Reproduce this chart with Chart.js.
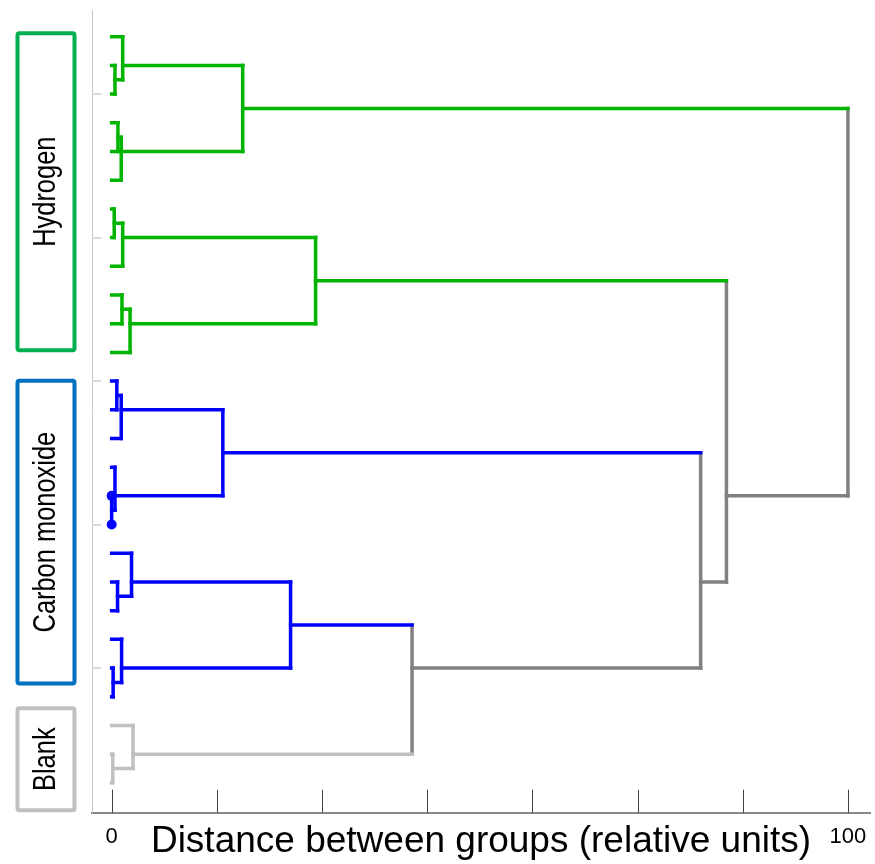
<!DOCTYPE html>
<html>
<head>
<meta charset="utf-8">
<script src="https://cdn.jsdelivr.net/npm/chart.js@4.4.1/dist/chart.umd.min.js"></script>
<style>
  html, body { margin: 0; padding: 0; background: #fff; }
  canvas { display: block; }
</style>
</head>
<body>
<canvas id="dendro" width="875" height="864"></canvas>
<script>
// leaves, top to bottom, and the group each belongs to
const groups = ['Hydrogen', 'Carbon monoxide', 'Blank'];
const leafGroup = [0,0,0,0,0,0,0,0,0,0,0,0, 1,1,1,1,1,1,1,1,1,1,1,1, 2,2,2];

// linkage: ids 0..26 are leaves, merge k makes cluster 27 + k
const mergeLeft   = [1, 0, 3, 29, 28, 6, 32, 9, 34, 33, 12, 37, 16, 15, 38, 19, 18, 22, 21, 43, 25, 24, 46, 41, 36, 31];
const mergeRight  = [2, 27, 4, 5, 30, 7, 8, 10, 11, 35, 13, 14, 17, 39, 40, 20, 42, 23, 44, 45, 26, 47, 48, 49, 50, 51];
const mergeHeight = [0.45, 1.5, 0.85, 1.3, 17.8, 0.35, 1.5, 1.4, 2.5, 27.7,
                     0.7, 1.3, 0, 0.45, 15.1, 0.8, 2.7, 0.2, 1.35, 24.3,
                     0.15, 2.9, 40.8, 80.0, 83.5, 100];

// axis ticks
const xTickValues = [0, 100/7, 200/7, 300/7, 400/7, 500/7, 600/7, 100];
const xTickLabels = ['0', '', '', '', '', '', '', '100'];
const yTickValues = [2, 7, 12, 17, 22];

const groupLineColors = ['#00b400', '#0000ff', '#c0c0c0'];
const mixedColor = '#808080';
const boxColors = ['#00b050', '#0070c0', '#c0c0c0'];

// build clusters
const nLeaf = leafGroup.length;
const cl = [];
for (let i = 0; i < nLeaf; i++) cl.push({leaves: [i], h: 0, g: leafGroup[i], leaf: true});
mergeLeft.forEach((l, k) => {
  const a = cl[l], b = cl[mergeRight[k]];
  const leaves = a.leaves.concat(b.leaves);
  cl.push({leaves, h: mergeHeight[k], g: a.g === b.g ? a.g : -1, leaf: false});
});
cl.forEach(c => { c.pos = c.leaves.reduce((s, v) => s + v, 0) / c.leaves.length; });
const colorOf = c => c.g < 0 ? mixedColor : groupLineColors[c.g];

const segs = [];
const dots = [];
mergeLeft.forEach((l, k) => {
  const c = cl[nLeaf + k], a = cl[l], b = cl[mergeRight[k]];
  [a, b].forEach(ch => {
    segs.push({pts: [{x: ch.h, y: ch.pos}, {x: c.h, y: ch.pos}], color: ch.leaf ? colorOf(c) : colorOf(ch)});
  });
  segs.push({pts: [{x: c.h, y: a.pos}, {x: c.h, y: b.pos}], color: colorOf(c)});
  if (c.h === 0) [a, b].forEach(ch => dots.push({x: 0, y: ch.pos}));
});

const datasets = [{
  data: dots, showLine: false, pointRadius: 5, pointHoverRadius: 5,
  backgroundColor: groupLineColors[1], borderColor: groupLineColors[1], borderWidth: 0
}];
segs.forEach(s => datasets.push({
  data: s.pts, showLine: true, borderColor: s.color, borderWidth: 3.5,
  borderCapStyle: 'square', pointRadius: 0, pointHoverRadius: 0
}));

const decor = {
  id: 'decor',
  afterDraw(chart) {
    const {ctx, chartArea, scales: {x, y}} = chart;
    ctx.save();
    // inward ticks on x
    ctx.strokeStyle = '#404040';
    ctx.lineWidth = 1;
    xTickValues.forEach(v => {
      const px = Math.round(x.getPixelForValue(v)) + 0.5;
      ctx.beginPath();
      ctx.moveTo(px, chartArea.bottom - 23);
      ctx.lineTo(px, chartArea.bottom);
      ctx.stroke();
    });
    // inward ticks on y
    ctx.strokeStyle = '#d9d9d9';
    ctx.lineWidth = 2;
    yTickValues.forEach(v => {
      const py = Math.round(y.getPixelForValue(v));
      ctx.beginPath();
      ctx.moveTo(chartArea.left, py);
      ctx.lineTo(chartArea.left + 9, py);
      ctx.stroke();
    });
    // group boxes
    const boxTop = [31.7, 379.3, 706.7];
    const boxBottom = [351.7, 685, 811.7];
    groups.forEach((name, i) => {
      ctx.strokeStyle = boxColors[i];
      ctx.lineWidth = 4;
      ctx.beginPath();
      ctx.roundRect(17.5, boxTop[i] + 1.5, 57, boxBottom[i] - boxTop[i] - 3, 2);
      ctx.stroke();
      ctx.save();
      ctx.translate(46.5, (boxTop[i] + boxBottom[i]) / 2);
      ctx.rotate(-Math.PI / 2);
      ctx.scale(0.82, 1);
      ctx.fillStyle = '#000';
      ctx.font = '31px "Liberation Sans", Arial, sans-serif';
      ctx.textAlign = 'center';
      ctx.textBaseline = 'middle';
      ctx.fillText(name, 0, 0);
      ctx.restore();
    });
    ctx.restore();
  }
};

new Chart(document.getElementById('dendro'), {
  type: 'scatter',
  data: {datasets},
  options: {
    responsive: false,
    devicePixelRatio: 1,
    animation: false,
    layout: {padding: {left: 92, right: 3, top: 10.7, bottom: 0}},
    plugins: {legend: {display: false}, tooltip: {enabled: false}},
    scales: {
      x: {
        type: 'linear', min: -2.67, max: 103,
        afterBuildTicks: s => { s.ticks = xTickValues.map(v => ({value: v})); },
        afterFit: s => { s.height = 51.3; s.paddingLeft = 0; s.paddingRight = 0; },
        grid: {display: false, drawTicks: false},
        border: {display: true, color: '#888888', width: 2},
        ticks: {
          autoSkip: false, maxRotation: 0, padding: 11, color: '#000',
          font: {family: '"Liberation Sans", Arial, sans-serif', size: 22},
          callback: (v, i) => xTickLabels[i]
        },
        title: {
          display: true, text: 'Distance between groups (relative units)', color: '#000',
          font: {family: '"Liberation Sans", Arial, sans-serif', size: 37},
          padding: 0
        }
      },
      y: {
        type: 'linear', reverse: true, min: -0.906, max: 27.04,
        afterFit: s => { s.width = 0; },
        grid: {display: false, drawTicks: false},
        border: {display: true, color: '#c8c8c8', width: 1},
        ticks: {display: false}
      }
    }
  },
  plugins: [decor]
});
</script>
</body>
</html>
